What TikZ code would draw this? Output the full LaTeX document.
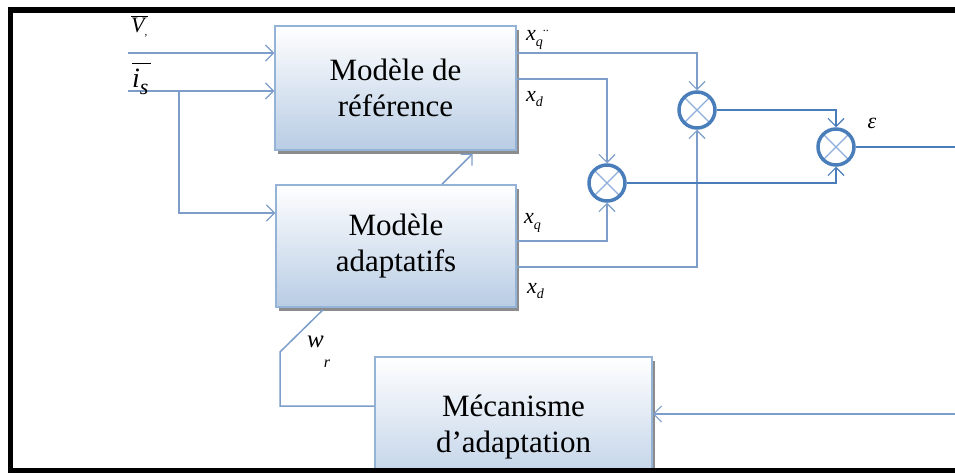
\documentclass[tikz,border=0pt]{standalone}
\usepackage{fontspec}
\setmainfont{Liberation Serif}
\usetikzlibrary{arrows.meta,shadows,calc}
\definecolor{lineblue}{RGB}{125,158,202}
\definecolor{darkblue}{RGB}{74,126,187}
\definecolor{crossblue}{RGB}{140,175,220}
\definecolor{boxbot}{RGB}{184,204,228}
\definecolor{boxedge}{RGB}{149,179,215}
\begin{document}
\begin{tikzpicture}[x=1pt,y=-1pt,
  blockbox/.style={draw=boxedge, line width=1.5pt, top color=white, bottom color=boxbot,
    align=center, font=\fontsize{31}{36}\selectfont, inner sep=0pt,
    drop shadow={shadow xshift=3pt,shadow yshift=-4pt,fill=black!45,opacity=1}},
  mult/.style={circle, draw=darkblue, line width=3.5pt, minimum size=36pt, inner sep=0pt,
    path picture={\draw[crossblue,line width=1.2pt]
      ([shift={(45:18pt)}]path picture bounding box.center) -- ([shift={(225:18pt)}]path picture bounding box.center)
      ([shift={(135:18pt)}]path picture bounding box.center) -- ([shift={(-45:18pt)}]path picture bounding box.center);}},
  conn/.style={draw=lineblue, line width=1.5pt},
  conndark/.style={draw=darkblue, line width=1.6pt},
  tip/.style={-{Straight Barb[length=8pt,width=16pt,line width=1.2pt]}},
  lbl/.style={inner sep=0pt, anchor=base west},
]
\clip (0,0) rectangle (955,473);
\fill[white] (0,0) rectangle (955,473);

% blocks
\node[blockbox, minimum width=241pt, minimum height=124pt] (ref) at (395.5,88) {Modèle de\\référence};
\node[blockbox, minimum width=240pt, minimum height=122pt] (adapt) at (396,246) {Modèle\\adaptatifs};
\node[blockbox, minimum width=277pt, minimum height=140pt] (meca) at (513.5,427) {Mécanisme\\d’adaptation};

% multipliers
\node[mult] (m1) at (697,110) {};
\node[mult] (m2) at (836,147) {};
\node[mult] (m3) at (607,183) {};

% coordinates
\coordinate (vsin) at (128,53);
\coordinate (isin) at (128,91);
\coordinate (isbr) at (179,91);
\coordinate (adin) at (179,213);
\coordinate (eout) at (955,147);
\coordinate (fin) at (955,414);
\coordinate (wa) at (280,352);

% inputs
\draw[conn,tip] (vsin) -- (vsin -| ref.west);
\draw[conn,tip] (isin) -- (isin -| ref.west);
\draw[conn,tip] (isbr) |- (adin -| adapt.west);

% adaptive -> reference
\draw[conn,tip] ($(adapt.north)+(46,0)$) -- ($(ref.south)+(77,3)$);

% model outputs
\draw[conn,tip] (ref.east |- vsin) -| (m1.north);
\draw[conn,tip] (ref.east |- 0,79) -| (m3.north);
\draw[conn,tip] (adapt.east |- 0,241) -| (m3.south);
\draw[conn,tip] (adapt.east |- 0,267) -| (m1.south);

% between multipliers
\draw[conndark,tip] (m1.east) -| (m2.north);
\draw[conndark,tip] (m3.east) -| (m2.south);
\draw[conndark] (m2.east) -- (eout);

% adaptation loop
\draw[conn,tip] (fin) -- (fin -| meca.east);
\draw[conn] (meca.west |- 0,406) -| (wa) -- ($(adapt.south)+(-73,2)$);

% labels
\node[lbl] (lv) at (131,33) {\fontsize{22}{22}\selectfont\itshape\makebox[0pt][l]{\raisebox{15.5pt}{\rule{17pt}{1.2pt}}}V\raisebox{-3pt}{\fontsize{11}{11}\selectfont ,}};
\node[lbl] (li) at (132,88) {\fontsize{28}{28}\selectfont\itshape\makebox[0pt][l]{\raisebox{24pt}{\rule{19pt}{1.2pt}}}i\raisebox{-7pt}{\fontsize{22}{22}\selectfont s}};
\node[lbl] (lxq1) at (526,41) {\fontsize{22}{22}\selectfont\itshape x\raisebox{-6pt}{\fontsize{14}{14}\selectfont q}\raisebox{9pt}{\fontsize{12}{12}\selectfont\upshape ..}};
\node[lbl] (lxd1) at (526,102) {\fontsize{22}{22}\selectfont\itshape x\raisebox{-5pt}{\fontsize{14}{14}\selectfont d}};
\node[lbl] (lxq2) at (524,223) {\fontsize{22}{22}\selectfont\itshape x\raisebox{-6pt}{\fontsize{14}{14}\selectfont q}};
\node[lbl] (lxd2) at (527,293) {\fontsize{22}{22}\selectfont\itshape x\raisebox{-5pt}{\fontsize{14}{14}\selectfont d}};
\node[inner sep=0pt, anchor=base] (leps) at (872,129) {\fontsize{22}{22}\selectfont\itshape ε};
\node[lbl] (lw) at (307,347) {\fontsize{25}{25}\selectfont\itshape w\raisebox{-20pt}{\fontsize{16}{16}\selectfont r}};

% frame
\fill[black] (8,7) rectangle (955,13);
\fill[black] (8,7) rectangle (13,473);
\fill[black] (8,468) rectangle (955,473);
\end{tikzpicture}
\end{document}
